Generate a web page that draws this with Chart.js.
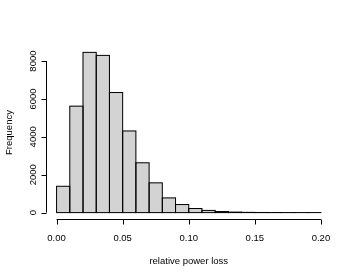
<!DOCTYPE html>
<html>
<head>
<meta charset="utf-8">
<script src="https://cdn.jsdelivr.net/npm/chart.js@4/dist/chart.umd.min.js"></script>
<style>
  html, body { margin: 0; padding: 0; background: #fff; }
  #wrap { width: 346px; height: 277px; }
</style>
</head>
<body>
<div id="wrap"><canvas id="histChart" width="346" height="277"></canvas></div>
<script>
// histogram bins (lower edges) and counts
const binStarts = [0.00, 0.01, 0.02, 0.03, 0.04, 0.05, 0.06, 0.07, 0.08, 0.09,
                   0.10, 0.11, 0.12, 0.13, 0.14, 0.15, 0.16, 0.17, 0.18, 0.19];
const binWidth = 0.01;
const counts = [1390, 5620, 8460, 8300, 6340, 4310, 2630, 1570, 775, 425,
                215, 115, 55, 25, 12, 6, 4, 2, 1, 1];
const xTicks = [0.00, 0.05, 0.10, 0.15, 0.20];
const xTickLabels = ['0.00', '0.05', '0.10', '0.15', '0.20'];
const yTicks = [0, 2000, 4000, 6000, 8000];
const yTickLabels = ['0', '2000', '4000', '6000', '8000'];

const FONT = '9.5px "Liberation Sans", Arial, sans-serif';

// outline every bar like R's rect(), even the ones that are nearly flat
const barOutline = {
    id: 'barOutline',
    afterDatasetsDraw(chart) {
        const c = chart.ctx;
        c.save();
        c.strokeStyle = '#000';
        c.lineWidth = 1;
        chart.getDatasetMeta(0).data.forEach(bar => {
            const p = bar.getProps(['x', 'y', 'base', 'width'], true);
            c.strokeRect(p.x - p.width / 2, p.y, p.width, p.base - p.y);
        });
        c.restore();
    }
};

// R style axes drawn with the chart's own scales
const baseAxes = {
    id: 'baseAxes',
    afterDraw(chart) {
        const c = chart.ctx;
        const xs = chart.scales.x;
        const ys = chart.scales.y;
        const area = chart.chartArea;
        c.save();
        c.strokeStyle = '#000';
        c.lineWidth = 1;
        c.fillStyle = '#000';
        c.font = FONT;

        // x axis
        const xy = Math.round(area.bottom) + 0.5;
        const x0 = xs.getPixelForValue(xTicks[0]);
        const x1 = xs.getPixelForValue(xTicks[xTicks.length - 1]);
        c.beginPath();
        c.moveTo(x0, xy);
        c.lineTo(x1, xy);
        xTicks.forEach(v => {
            const px = Math.round(xs.getPixelForValue(v)) + 0.5;
            c.moveTo(px, xy);
            c.lineTo(px, xy + 5);
        });
        c.stroke();
        c.textAlign = 'center';
        c.textBaseline = 'middle';
        xTicks.forEach((v, i) => {
            c.fillText(xTickLabels[i], xs.getPixelForValue(v), xy + 19);
        });
        c.fillText('relative power loss', (area.left + area.right) / 2, 261);

        // y axis
        const yx = Math.round(area.left) + 0.5;
        const y0 = ys.getPixelForValue(yTicks[0]);
        const y1 = ys.getPixelForValue(yTicks[yTicks.length - 1]);
        c.beginPath();
        c.moveTo(yx, y0);
        c.lineTo(yx, y1);
        yTicks.forEach(v => {
            const py = Math.round(ys.getPixelForValue(v)) + 0.5;
            c.moveTo(yx, py);
            c.lineTo(yx - 5, py);
        });
        c.stroke();
        yTicks.forEach((v, i) => {
            c.save();
            c.translate(33, ys.getPixelForValue(v));
            c.rotate(-Math.PI / 2);
            c.fillText(yTickLabels[i], 0, 0);
            c.restore();
        });
        c.save();
        c.translate(9, (area.top + area.bottom) / 2);
        c.rotate(-Math.PI / 2);
        c.fillText('Frequency', 0, 0);
        c.restore();
        c.restore();
    }
};

const ctx = document.getElementById('histChart').getContext('2d');
const histChart = new Chart(ctx, {
    type: 'bar',
    data: {
        datasets: [{
            label: 'Frequency',
            data: binStarts.map((b, i) => ({ x: b + binWidth / 2, y: counts[i] })),
            backgroundColor: '#d3d3d3',
            borderWidth: 0,
            barPercentage: 1,
            categoryPercentage: 1
        }]
    },
    options: {
        responsive: false,
        animation: false,
        layout: {
            padding: { left: 46, right: 14.5, top: 46, bottom: 58 }
        },
        plugins: {
            legend: { display: false },
            tooltip: { enabled: false }
        },
        scales: {
            x: {
                type: 'linear',
                display: false,
                offset: false,
                min: -0.008,
                max: 0.208
            },
            y: {
                display: false,
                min: -338,
                max: 8796
            }
        }
    },
    plugins: [barOutline, baseAxes]
});
</script>
</body>
</html>
